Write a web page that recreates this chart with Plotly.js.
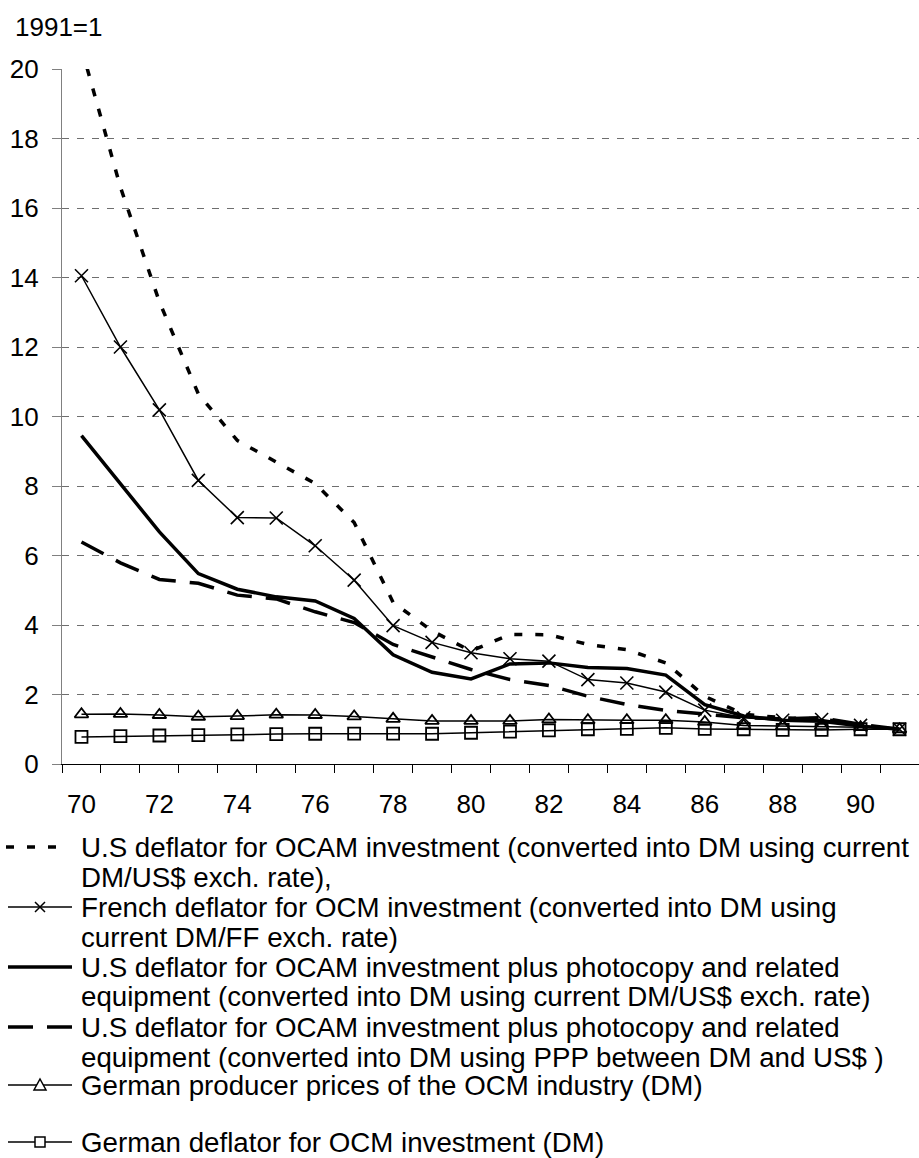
<!DOCTYPE html>
<html>
<head>
<meta charset="utf-8">
<script src="https://cdn.plot.ly/plotly-3.0.1.min.js"></script>
<style>html,body{margin:0;padding:0;background:#fff}#chart{width:919px;height:1158px}</style>
</head>
<body>
<div id="chart"></div>
<script>
// ---- data ----
const years = [70,71,72,73,74,75,76,77,78,79,80,81,82,83,84,85,86,87,88,89,90,91];
const xTickLabels = [70,72,74,76,78,80,82,84,86,88,90];

const usOcamCurrent   = [20.6,16.6,13.3,10.65,9.31,8.69,8.07,6.95,4.65,3.83,3.25,3.73,3.72,3.44,3.29,2.91,1.95,1.43,1.33,1.30,1.11,1.0];
const frenchOcm       = [14.05,12.0,10.19,8.16,7.09,7.08,6.28,5.29,3.98,3.50,3.20,3.03,2.96,2.43,2.33,2.07,1.55,1.33,1.26,1.28,1.11,1.0];
const usPhotoCurrent  = [9.45,8.08,6.68,5.48,5.03,4.81,4.69,4.19,3.14,2.64,2.45,2.88,2.91,2.78,2.75,2.56,1.71,1.38,1.26,1.23,1.09,1.0];
const usPhotoPPP      = [6.39,5.79,5.31,5.20,4.86,4.75,4.38,4.07,3.44,3.07,2.72,2.43,2.26,1.95,1.71,1.54,1.43,1.33,1.30,1.33,1.14,1.0];
const germanProducer  = [1.43,1.44,1.41,1.36,1.38,1.42,1.41,1.37,1.30,1.24,1.24,1.24,1.28,1.26,1.26,1.26,1.21,1.11,1.09,1.09,1.06,1.0];
const germanDeflator  = [0.78,0.80,0.82,0.83,0.85,0.86,0.87,0.875,0.875,0.87,0.90,0.93,0.97,1.0,1.01,1.04,1.01,1.0,0.98,0.98,1.0,1.0];

const seriesNames = [
  "U.S deflator for OCAM investment (converted into DM using current DM/US$ exch. rate),",
  "French deflator for OCM investment (converted into DM using current DM/FF exch. rate)",
  "U.S deflator for OCAM investment plus photocopy and related equipment (converted into DM using current DM/US$ exch. rate)",
  "U.S deflator for OCAM investment plus photocopy and related equipment (converted into DM using PPP between DM and US$ )",
  "German producer prices of the OCM industry (DM)",
  "German deflator for OCM investment (DM)"
];
const legendLines = [
  ["U.S deflator for OCAM investment (converted into DM using current", "DM/US$ exch. rate),"],
  ["French deflator for OCM investment (converted into DM using", "current DM/FF exch. rate)"],
  ["U.S deflator for OCAM investment plus photocopy and related", "equipment (converted into DM using current DM/US$ exch. rate)"],
  ["U.S deflator for OCAM investment plus photocopy and related", "equipment (converted into DM using PPP between DM and US$ )"],
  ["German producer prices of the OCM industry (DM)"],
  ["German deflator for OCM investment (DM)"]
];
const yAxisNote = "1991=1";

// ---- styling ----
const FONT = "Liberation Sans, Arial, sans-serif";
const W = 919, H = 1158;
const L = 62, R = 919, T = 69, B = 764;   // plot area in pixels
const px = X => (X - L) / (R - L);
const py = Y => (B - Y) / (B - T);

const styles = [
  {line:{color:'#000', width:3.5, dash:'8px,13px'}, mode:'lines'},
  {line:{color:'#000', width:1.5}, mode:'lines+markers', marker:{symbol:'x-thin-open', size:13, line:{color:'#000', width:1.6}}},
  {line:{color:'#000', width:3.5}, mode:'lines'},
  {line:{color:'#000', width:3.5, dash:'25px,14px'}, mode:'lines'},
  {line:{color:'#000', width:1.5}, mode:'lines+markers', marker:{symbol:'triangle-up-open', size:12, line:{color:'#000', width:1.8}}},
  {line:{color:'#000', width:1.5}, mode:'lines+markers', marker:{symbol:'square-open', size:12, line:{color:'#000', width:1.8}}}
];
const seriesData = [usOcamCurrent, frenchOcm, usPhotoCurrent, usPhotoPPP, germanProducer, germanDeflator];

const traces = seriesData.map((ys, i) => Object.assign({
  type:'scatter', x: years, y: ys, name: seriesNames[i], showlegend:false, hoverinfo:'skip'
}, styles[i]));

// ---- custom legend (keys + wrapped text) ----
const shapes = [];
const annotations = [];
const entryY = [847, 907, 967, 1027, 1085, 1142];
const LINE_GAP = 30;
const keyX0 = 8, keyX1 = 72, markX = 40, textX = 79;
entryY.forEach((y, i) => {
  const st = styles[i];
  const x1 = i === 0 ? 62 : keyX1;
  const x0 = i === 0 ? 6 : keyX0;
  shapes.push({type:'line', xref:'paper', yref:'paper', x0:px(x0), x1:px(x1), y0:py(y), y1:py(y),
    line:{color:'#000', width: st.line.width, dash: st.line.dash || 'solid'}});
  let s = 5;
  let path = null;
  if (i === 1) {
    path = `M${px(markX-s)},${py(y-s)} L${px(markX+s)},${py(y+s)} M${px(markX-s)},${py(y+s)} L${px(markX+s)},${py(y-s)}`;
  } else if (i === 4) {
    path = `M${px(markX-6)},${py(y+5)} L${px(markX+6)},${py(y+5)} L${px(markX)},${py(y-6)} Z`;
  } else if (i === 5) {
    path = `M${px(markX-5)},${py(y-5)} L${px(markX+5)},${py(y-5)} L${px(markX+5)},${py(y+5)} L${px(markX-5)},${py(y+5)} Z`;
  }
  if (path) shapes.push({type:'path', xref:'paper', yref:'paper', path, fillcolor:'#fff', line:{color:'#000', width:1.5}});
  legendLines[i].forEach((txt, k) => {
    annotations.push({xref:'paper', yref:'paper', x:px(textX), y:py(y + k*LINE_GAP), xanchor:'left', yanchor:'middle',
      text: txt, showarrow:false, font:{family:FONT, size:27.7, color:'#000'}});
  });
});
annotations.push({xref:'paper', yref:'paper', x:px(13), y:py(27), xanchor:'left', yanchor:'middle',
  text: yAxisNote, showarrow:false, font:{family:FONT, size:26, color:'#000'}});

const layout = {
  width: W, height: H,
  margin:{l:L, r:W-R, t:T, b:H-B, pad:0},
  paper_bgcolor:'#fff', plot_bgcolor:'#fff',
  font:{family:FONT, size:26, color:'#000'},
  showlegend:false,
  xaxis:{
    range:[69.5, 91.5], tickmode:'array', tickvals:xTickLabels, ticktext:xTickLabels.map(String),
    ticks:'', showgrid:false, zeroline:false, showline:true, linecolor:'#000', linewidth:1,
    tickfont:{family:FONT, size:26, color:'#000'}, ticklabelstandoff:17,
    minor:{tick0:69.5, dtick:1, ticks:'outside', ticklen:8, tickwidth:1, tickcolor:'#000', showgrid:false}
  },
  yaxis:{
    range:[0,20], tickmode:'linear', tick0:0, dtick:2,
    ticks:'outside', ticklen:9, tickwidth:1, tickcolor:'#808080',
    showline:true, linecolor:'#808080', linewidth:1.2,
    showgrid:true, gridcolor:'#6e6e6e', gridwidth:1, griddash:'7px,8px', zeroline:false,
    tickfont:{family:FONT, size:26, color:'#000'}, ticklabelstandoff:8
  },
  shapes, annotations
};

Plotly.newPlot('chart', traces, layout, {staticPlot:true, displayModeBar:false});
</script>
</body>
</html>
